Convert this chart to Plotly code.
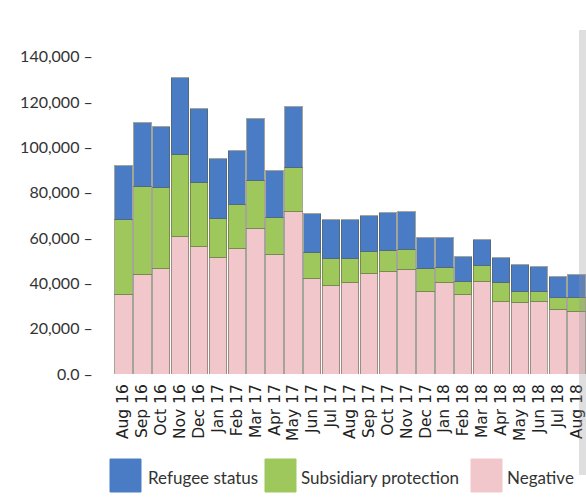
import plotly.graph_objects as go

months = ["Aug 16", "Sep 16", "Oct 16", "Nov 16", "Dec 16", "Jan 17", "Feb 17", "Mar 17",
          "Apr 17", "May 17", "Jun 17", "Jul 17", "Aug 17", "Sep 17", "Oct 17", "Nov 17",
          "Dec 17", "Jan 18", "Feb 18", "Mar 18", "Apr 18", "May 18", "Jun 18", "Jul 18", "Aug 18"]

negative = [34900, 43700, 46400, 60500, 56100, 51200, 55200, 64000, 52600, 71600, 42000, 38900,
            40200, 44200, 45100, 45900, 36200, 40200, 34900, 40600, 31800, 31400, 31800, 28300, 27400]
subsidiary = [33100, 38900, 35800, 36200, 28300, 17300, 19400, 21200, 16300, 19400, 11400, 11900,
              10600, 9700, 9200, 8900, 10200, 6600, 5700, 7100, 8400, 4800, 4400, 5300, 6200]
refugee = [23900, 28300, 26900, 34000, 32600, 26500, 23900, 27400, 20800, 26900, 17300, 17200,
           17200, 15900, 16800, 16800, 13700, 13300, 11100, 11500, 11000, 11900, 11100, 9200, 10100]

colors = {"Refugee status": "#4a7cc6", "Subsidiary protection": "#9ec75c", "Negative": "#f2c7cc"}

ytick_vals = [0, 20000, 40000, 60000, 80000, 100000, 120000, 140000]
ytick_text = ["0.0 –", "20,000 –", "40,000 –", "60,000 –", "80,000 –", "100,000 –", "120,000 –", "140,000 –"]

W, H = 586, 498
L, R, T, B = 114, 0, 34, 124
pw, ph = W - L - R, H - T - B


def px(x):  # page pixel -> paper
    return (x - L) / pw


def py(y):
    return (H - B - y) / ph


fig = go.Figure()
for name, vals in [("Negative", negative), ("Subsidiary protection", subsidiary), ("Refugee status", refugee)]:
    fig.add_trace(go.Bar(
        x=months, y=vals, name=name,
        marker=dict(color=colors[name], line=dict(color="rgba(90,90,70,0.55)", width=1)),
        showlegend=False,
    ))

shapes = []
annotations = []
legend_items = [("Refugee status", 110, 146), ("Subsidiary protection", 265, 299), ("Negative", 471, 505)]
for name, sx, tx in legend_items:
    shapes.append(dict(type="rect", xref="paper", yref="paper",
                       x0=px(sx), x1=px(sx + 31), y0=py(459), y1=py(492),
                       fillcolor=colors[name], line=dict(color=colors[name], width=1)))
    annotations.append(dict(text=name, xref="paper", yref="paper", x=px(tx), y=py(477),
                            xanchor="left", yanchor="middle", showarrow=False,
                            font=dict(family="Lato", size=17, color="#333333")))

# grey edge band of the original scan
shapes.append(dict(type="rect", xref="paper", yref="paper", x0=px(579), x1=px(586),
                   y0=py(475), y1=py(30), fillcolor="rgba(150,150,150,0.3)",
                   line=dict(width=0), layer="above"))

fig.update_layout(
    width=W, height=H,
    margin=dict(l=L, r=R, t=T, b=B, autoexpand=False),
    barmode="stack", bargap=0.08,
    plot_bgcolor="white", paper_bgcolor="white",
    font=dict(family="Lato", color="#333333"),
    shapes=shapes, annotations=annotations,
    xaxis=dict(tickmode="array", tickvals=months, ticktext=months, tickangle=-90,
               tickfont=dict(family="DejaVu Sans", size=15.5, color="#222222"), showgrid=False,
               showline=False, ticks="outside", ticklen=3, tickcolor="rgba(0,0,0,0)",
               range=[-0.5, 24.5], automargin=False),
    yaxis=dict(range=[0, 150000], tickmode="array", tickvals=ytick_vals, ticktext=ytick_text,
               tickfont=dict(size=16, color="#333333"), showgrid=False, zeroline=False,
               showline=False, ticks="outside", ticklen=17, tickcolor="rgba(0,0,0,0)",
               automargin=False),
)

fig.write_html("out.html", config={"displayModeBar": False},
               post_script="document.body.style.margin='0px';document.body.style.overflow='hidden';")
